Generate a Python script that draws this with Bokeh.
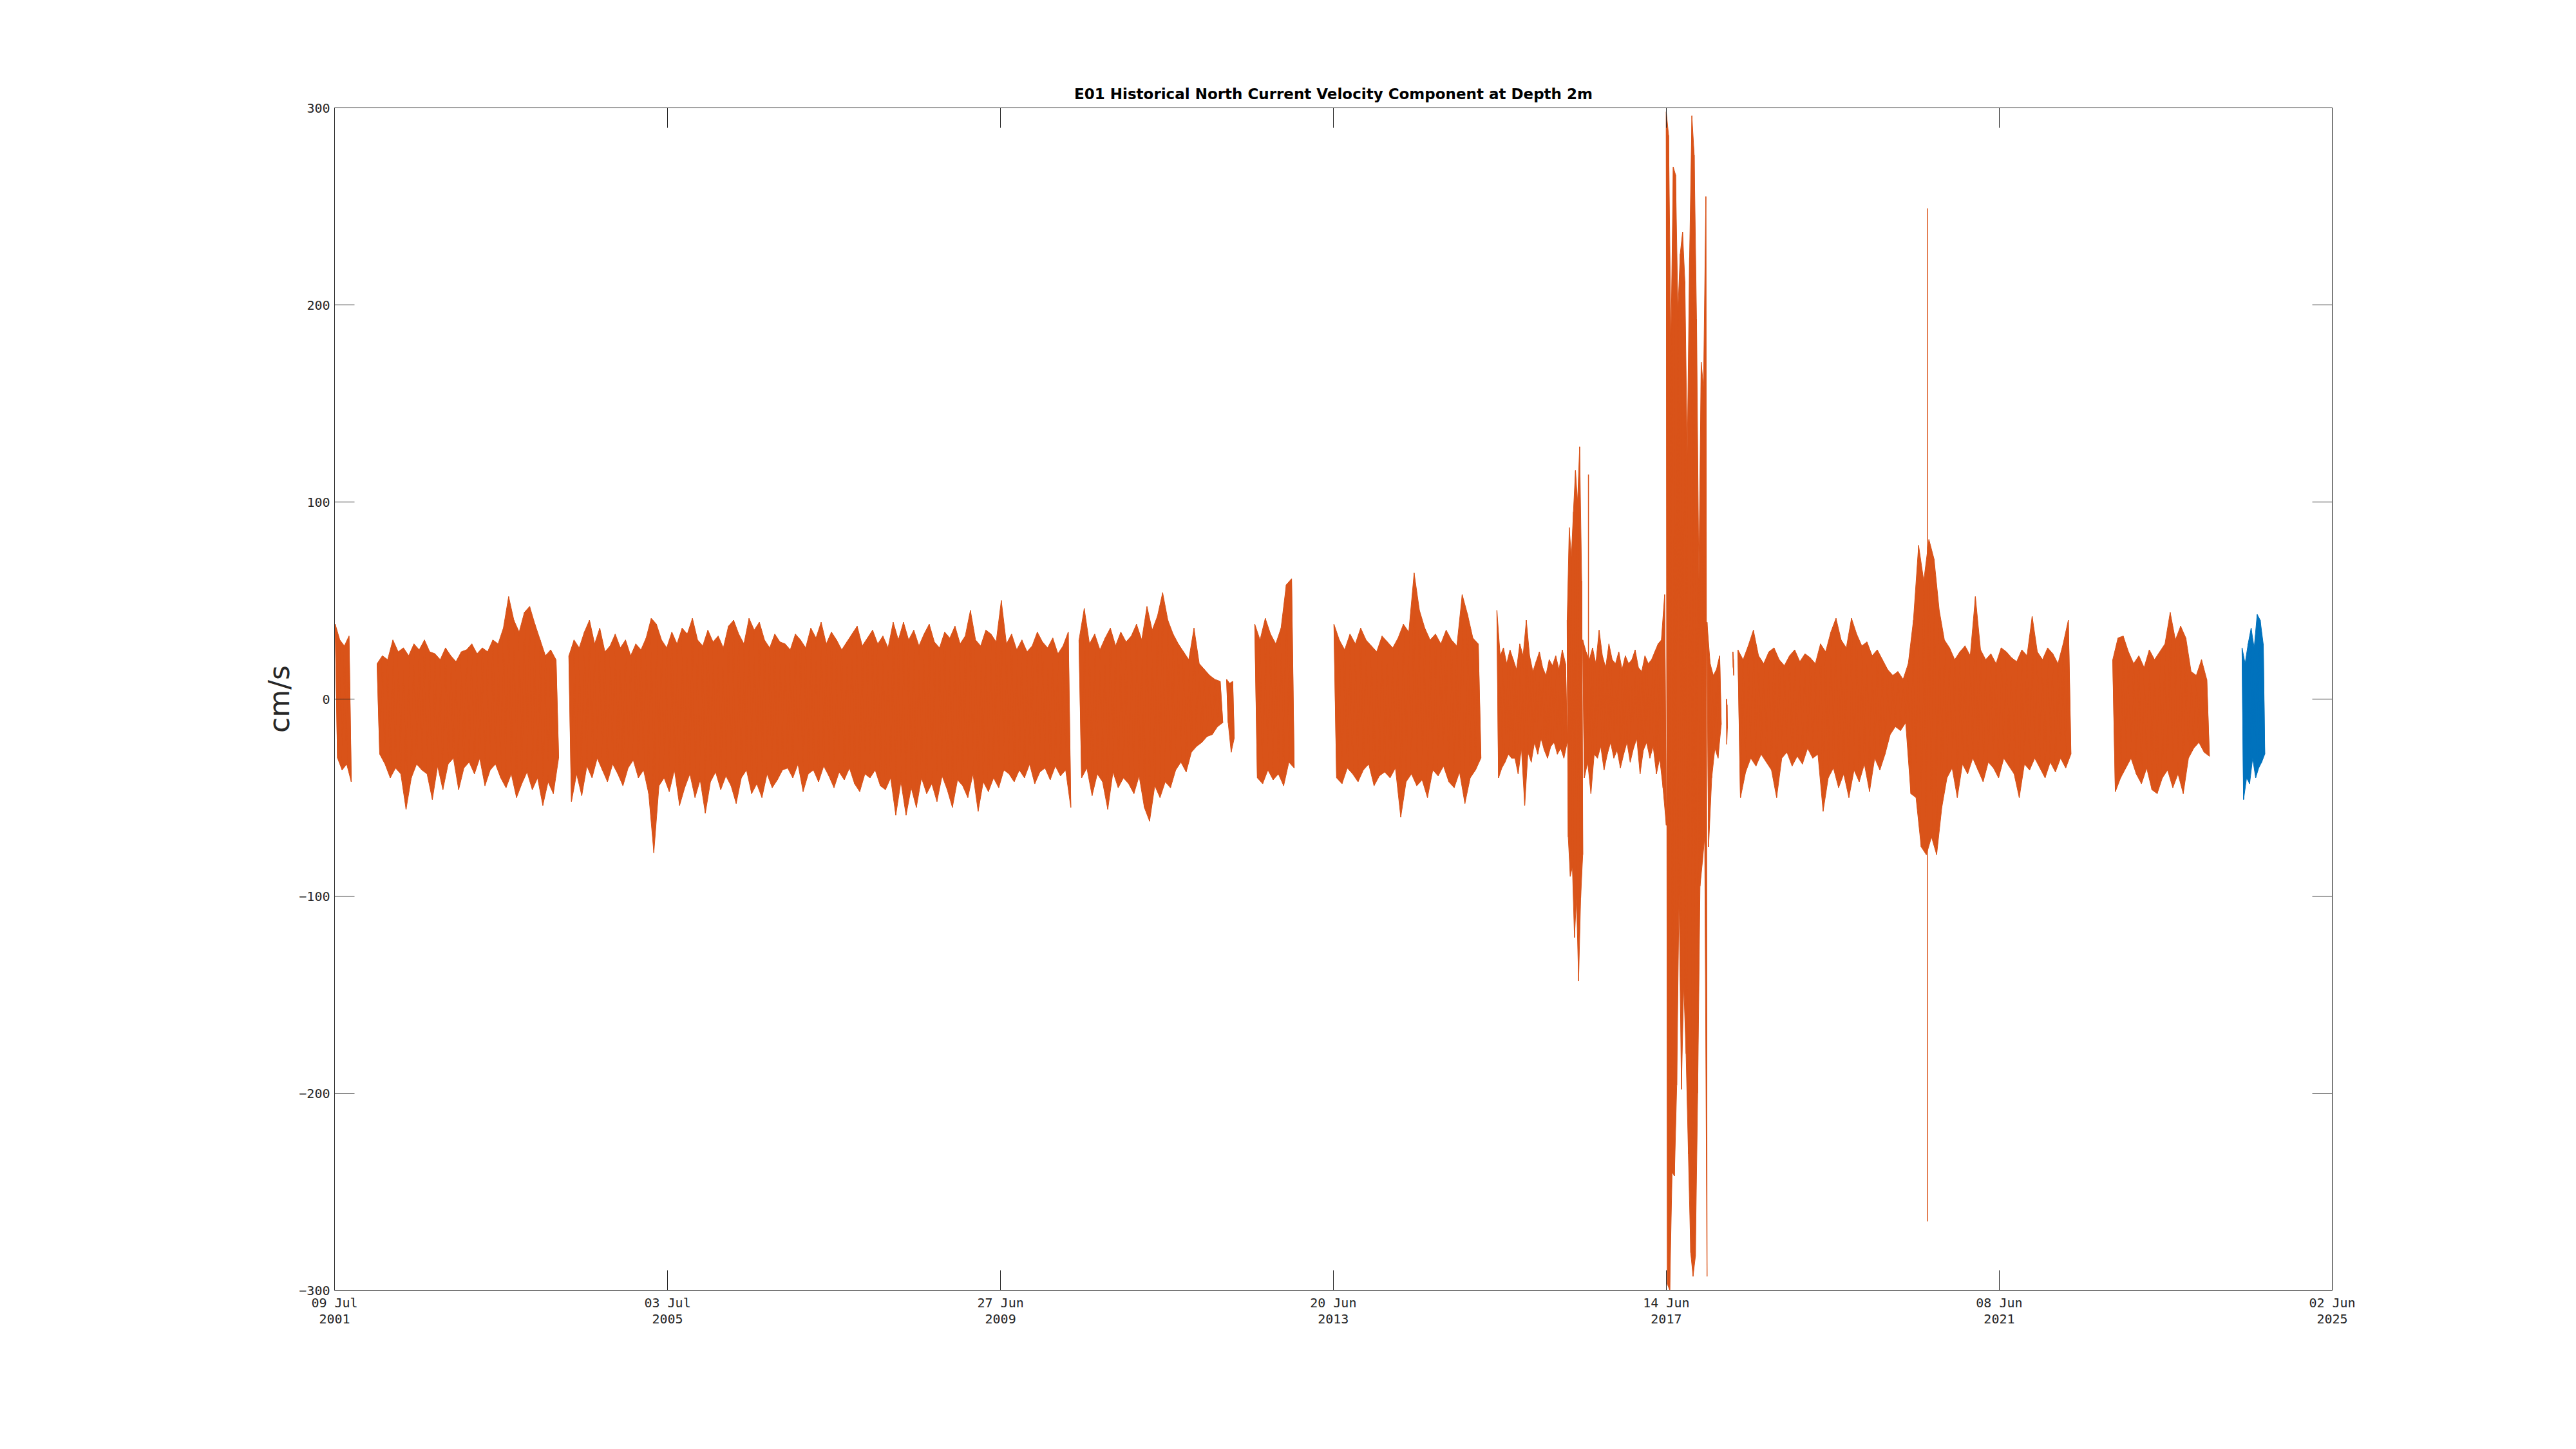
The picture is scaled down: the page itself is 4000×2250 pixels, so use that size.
import numpy as np
import pandas as pd
from bokeh.plotting import figure
from bokeh.models import Range1d, FixedTicker, LinearAxis
from bokeh.embed import file_html
from bokeh.resources import INLINE

# ---------------- data ----------------
BASE_DATE = "2001-07-09"
X_START = "2001-07-09"
X_END = "2025-06-02"
TITLE = "E01 Historical North Current Velocity Component at Depth 2m"
Y_LABEL = "cm/s"
Y_TICKS = [-300, -200, -100, 0, 100, 200, 300]
TICK_DATES = ["2001-07-09", "2005-07-03", "2009-06-27", "2013-06-20",
              "2017-06-14", "2021-06-08", "2025-06-02"]
TICK_DAYS = ["09 Jul", "03 Jul", "27 Jun", "20 Jun", "14 Jun", "08 Jun", "02 Jun"]
TICK_YEARS = ["2001", "2005", "2009", "2013", "2017", "2021", "2025"]

# each segment: (start, end), per-interval positive peaks, negative peaks (cm/s)
seg01_span = ("2001-07-12", "2001-09-20")
seg01_hi = [38, 30, 27, 32]
seg01_lo = [-30, -36, -33, -42]

seg02_span = ("2002-01-11", "2004-03-14")
seg02_hi = [18, 22, 20, 30, 24, 26, 22, 28, 25, 30, 24, 23, 20, 26, 22, 19, 24, 25, 28, 23,
            26, 24, 30, 28, 36, 52, 40, 34, 44, 47, 38, 30, 22, 25, 20]
seg02_lo = [-28, -33, -40, -35, -38, -56, -40, -33, -36, -38, -51, -34, -46, -33, -30, -46, -35, -32, -38, -30,
            -44, -36, -33, -40, -45, -38, -50, -43, -37, -46, -40, -54, -42, -48, -30]

seg03_span = ("2004-04-28", "2010-04-30")
seg03_hi = [22, 30, 26, 34, 40, 28, 36, 24, 27, 33, 26, 30, 22, 28, 25, 31, 41,
            38, 30, 26, 34, 28, 36, 33, 41, 30, 27, 35, 29, 32, 26, 37, 40, 33, 28, 41, 35, 39, 30, 26, 33, 29,
            28, 25, 33, 30, 26, 36, 31, 39, 28, 34, 30, 25, 29, 33, 37, 27, 31, 35, 28, 32, 26, 39, 30,
            39, 30, 35, 27, 33, 38, 29, 26, 34, 31, 37, 28, 32, 45, 30, 27, 35, 33, 29, 50,
            28, 33, 25, 30, 24, 27, 34, 29, 26, 31, 23, 27, 34]
seg03_lo = [-52, -38, -49, -34, -40, -30, -36, -42, -33, -38, -44, -35, -31, -40, -36, -48, -78,
            -44, -40, -47, -36, -54, -45, -38, -50, -41, -58, -42, -37, -46, -39, -44, -53, -40, -36, -48, -43, -50, -38, -45, -41, -36,
            -35, -40, -33, -47, -38, -36, -42, -34, -39, -45, -37, -41, -35, -43, -47, -38, -40, -36, -44, -46, -40, -59, -42,
            -59, -45, -55, -40, -48, -43, -52, -39, -46, -55, -41, -44, -50, -38, -57, -42, -47, -40, -45, -36,
            -38, -42, -36, -40, -33, -43, -37, -35, -41, -34, -39, -36, -55]

seg04_span = ("2010-06-05", "2012-02-23")
seg04_hi = [30, 46, 28, 33, 25, 31, 36, 27, 34, 29, 32, 38, 30, 47, 35, 42, 54, 40, 33, 28,
            24, 20, 36, 18, 15, 12, 10, 9]
seg04_lo = [-40, -35, -49, -38, -42, -56, -37, -45, -40, -43, -48, -39, -55, -62, -44, -50, -42, -45, -36, -32,
            -37, -27, -24, -22, -19, -18, -14, -12]

seg04b_span = ("2012-03-11", "2012-04-13")
seg04b_hi = [10, 8, 9]
seg04b_lo = [-12, -27, -20]

seg05_span = ("2012-07-12", "2012-12-31")
seg05_hi = [38, 30, 41, 33, 28, 36, 58, 61]
seg05_lo = [-40, -43, -36, -41, -38, -44, -32, -35]

seg06_span = ("2013-06-23", "2015-03-27")
seg06_hi = [38, 30, 25, 33, 28, 36, 30, 27, 24, 32, 29, 26, 31, 38, 34, 64, 45, 36, 30, 33,
            28, 35, 30, 27, 53, 43, 31, 28]
seg06_lo = [-40, -43, -35, -38, -42, -36, -33, -44, -39, -37, -40, -35, -60, -42, -38, -44, -41, -50, -36, -39,
            -34, -42, -45, -37, -53, -40, -36, -30]

seg07a_span = ("2015-06-05", "2016-04-07")
seg07a_hi = [45, 22, 26, 18, 25, 20, 15, 28, 22, 40, 22, 14, 19, 24, 16, 12, 20, 17, 22, 15, 25, 18]
seg07a_lo = [-40, -35, -32, -28, -30, -30, -38, -25, -54, -27, -32, -22, -28, -20, -26, -30, -24, -22, -28, -25, -30, -22]

seg07b_span = ("2016-04-07", "2016-06-14")
seg07b_hi = [40, 87, 72, 95, 116, 100, 128, 60]
seg07b_lo = [-70, -90, -85, -121, -101, -143, -101, -79]

seg07c_span = ("2016-06-14", "2017-06-14")
seg07c_hi = [30, 24, 20, 26, 18, 35, 22, 16, 28, 20, 18, 24, 15, 22, 18, 20, 25, 16, 14, 22,
             18, 20, 24, 28, 30, 53]
seg07c_lo = [-40, -32, -48, -28, -30, -24, -36, -28, -22, -30, -26, -35, -28, -22, -32, -25, -20, -38, -26, -22,
             -30, -24, -38, -30, -45, -64]

seg07d_span = ("2017-06-14", "2017-12-09")
seg07d_hi = [298, 286, 180, 270, 266, 197, 226, 237, 212, 123, 224, 296, 276, 193, 61, 171, 158, 255]
seg07d_lo = [-297, -300, -240, -242, -196, -99, -198, -145, -180, -231, -281, -293, -283, -200, -95, -83, -70, -293]

seg07e_span = ("2017-12-09", "2018-02-09")
seg07e_hi = [39, 18, 12, 15, 22]
seg07e_lo = [-75, -40, -25, -30, -13]

seg07f_span = ("2018-03-04", "2018-03-08")
seg07f_hi = [0, -3]
seg07f_lo = [-23, -15]

seg07g_span = ("2018-04-01", "2018-04-05")
seg07g_hi = [24, 20]
seg07g_lo = [16, 12]

seg08_span = ("2018-04-23", "2022-04-17")
seg08_hi = [25, 20, 27, 35, 22, 18, 24, 26, 20, 17, 22, 25, 19, 23, 21, 18,
            28, 24, 34, 41, 30, 26, 41, 33, 27, 29, 22, 25, 20,
            15, 12, 14, 10, 18,
            40, 78, 60, 81, 71, 45,
            30, 26, 20, 24, 27, 22, 52, 25, 20, 23, 18, 26, 24, 21, 19, 25, 22, 42, 24, 20, 26, 23, 18, 28, 40]
seg08_lo = [-50, -37, -30, -34, -28, -32, -36, -50, -30, -27, -34, -29, -33, -25, -30, -28,
            -57, -40, -35, -45, -38, -50, -36, -42, -33, -47, -30, -36, -28,
            -18, -14, -16, -12, -48,
            -50, -75, -79, -70, -79, -55,
            -40, -35, -50, -33, -38, -30, -36, -42, -32, -35, -40, -30, -34, -38, -50, -33, -36, -30, -35, -40, -32, -37, -30, -35, -28]

seg09_span = ("2022-10-17", "2023-12-13")
seg09_hi = [20, 31, 32, 24, 18, 22, 16, 25, 20, 24, 28, 44, 30, 37, 31, 14, 12, 20, 10]
seg09_lo = [-47, -40, -35, -30, -38, -43, -35, -46, -48, -40, -36, -45, -38, -48, -30, -25, -22, -27, -29]

# most recent deployment (blue)
seg10_span = ("2024-05-04", "2024-08-11")
seg10_hi = [26, 18, 28, 36, 26, 43, 40, 28]
seg10_lo = [-51, -40, -43, -30, -40, -35, -32, -28]

# isolated single spikes
SPIKE_DATES = ["2016-07-09", "2020-07-29"]
SPIKE_TOP = [114, 249]
SPIKE_BOTTOM = [-10, -265]

HIST_COLOR = "#D95319"
RECENT_COLOR = "#0072BD"

historical = [
    (seg01_span, seg01_hi, seg01_lo), (seg02_span, seg02_hi, seg02_lo),
    (seg03_span, seg03_hi, seg03_lo), (seg04_span, seg04_hi, seg04_lo),
    (seg04b_span, seg04b_hi, seg04b_lo), (seg05_span, seg05_hi, seg05_lo),
    (seg06_span, seg06_hi, seg06_lo), (seg07a_span, seg07a_hi, seg07a_lo),
    (seg07b_span, seg07b_hi, seg07b_lo), (seg07c_span, seg07c_hi, seg07c_lo),
    (seg07d_span, seg07d_hi, seg07d_lo), (seg07e_span, seg07e_hi, seg07e_lo),
    (seg07f_span, seg07f_hi, seg07f_lo), (seg07g_span, seg07g_hi, seg07g_lo),
    (seg08_span, seg08_hi, seg08_lo), (seg09_span, seg09_hi, seg09_lo),
]
recent = [(seg10_span, seg10_hi, seg10_lo)]


def day(s):
    return (pd.Timestamp(s) - pd.Timestamp(BASE_DATE)).total_seconds() / 86400.0


x0, x1 = day(X_START), day(X_END)

p = figure(width=3984, height=2234, x_range=Range1d(x0, x1), y_range=Range1d(-300, 300),
           x_axis_type=None, y_axis_type=None, output_backend="svg", toolbar_location=None,
           min_border_left=519, min_border_right=363, min_border_top=167, min_border_bottom=231)
p.outline_line_color = None
p.background_fill_color = "white"
p.border_fill_color = "white"


def draw(seg, color):
    (start, end), hi, lo = seg
    t0, t1 = day(start), day(end)
    n = len(hi)
    step = (t1 - t0) / (n - 0.5)
    th = t0 + step * np.arange(n)
    tl = th + step / 2
    hi = np.asarray(hi, float)
    lo = np.asarray(lo, float)
    p.patch(np.concatenate([th, tl[::-1]]), np.concatenate([hi, lo[::-1]]),
            fill_color=color, line_color=color, line_width=1)
    xs = np.empty(2 * n)
    ys = np.empty(2 * n)
    xs[0::2], xs[1::2] = th, tl
    ys[0::2], ys[1::2] = hi, lo
    p.line(xs, ys, line_color=color, line_width=1.3)


for s in historical:
    draw(s, HIST_COLOR)
for s in recent:
    draw(s, RECENT_COLOR)

sx = [day(d) for d in SPIKE_DATES]
p.segment(x0=sx, y0=SPIKE_BOTTOM, x1=sx, y1=SPIKE_TOP, line_color=HIST_COLOR, line_width=1.5)

# ---------------- axes ----------------
AX_COLOR = "#262626"
tick_x = [int(round(day(d))) for d in TICK_DATES]
xticker = FixedTicker(ticks=tick_x, minor_ticks=[])
yticker = FixedTicker(ticks=Y_TICKS, minor_ticks=[])


def style(ax):
    ax.major_tick_in = 31
    ax.major_tick_out = 0
    ax.minor_tick_in = 0
    ax.minor_tick_out = 0
    ax.axis_line_color = AX_COLOR
    ax.axis_line_width = 1
    ax.major_tick_line_color = AX_COLOR
    ax.major_tick_line_width = 1
    ax.major_label_text_font = "DejaVu Sans Mono"
    ax.major_label_text_font_size = "20px"
    ax.major_label_text_color = AX_COLOR


bottom = LinearAxis(ticker=xticker, major_label_overrides={t: l for t, l in zip(tick_x, TICK_DAYS)})
style(bottom)
bottom.major_label_standoff = 7
p.add_layout(bottom, "below")

years = LinearAxis(ticker=xticker, major_label_overrides={t: l for t, l in zip(tick_x, TICK_YEARS)})
style(years)
years.major_tick_in = 0
years.axis_line_color = None
years.major_tick_line_color = None
years.major_label_standoff = 3
p.add_layout(years, "below")

# top axis: inward ticks, no tick labels; carries the chart title as its label
top = LinearAxis(ticker=xticker, major_label_overrides={t: "" for t in tick_x})
style(top)
top.major_label_standoff = 0
top.axis_label = TITLE
top.axis_label_text_font = "DejaVu Sans"
top.axis_label_text_font_style = "bold"
top.axis_label_text_font_size = "23px"
top.axis_label_text_color = "black"
top.axis_label_standoff = 9
p.add_layout(top, "above")

left = LinearAxis(ticker=yticker)
style(left)
left.major_label_standoff = 7
left.axis_label = Y_LABEL
left.axis_label_text_font = "DejaVu Sans"
left.axis_label_text_font_size = "44px"
left.axis_label_text_font_style = "normal"
left.axis_label_text_color = AX_COLOR
left.axis_label_standoff = 2
p.add_layout(left, "left")

right = LinearAxis(ticker=yticker, major_label_overrides={t: "" for t in Y_TICKS})
style(right)
p.add_layout(right, "right")

open("out.html", "w").write(file_html(p, INLINE))
